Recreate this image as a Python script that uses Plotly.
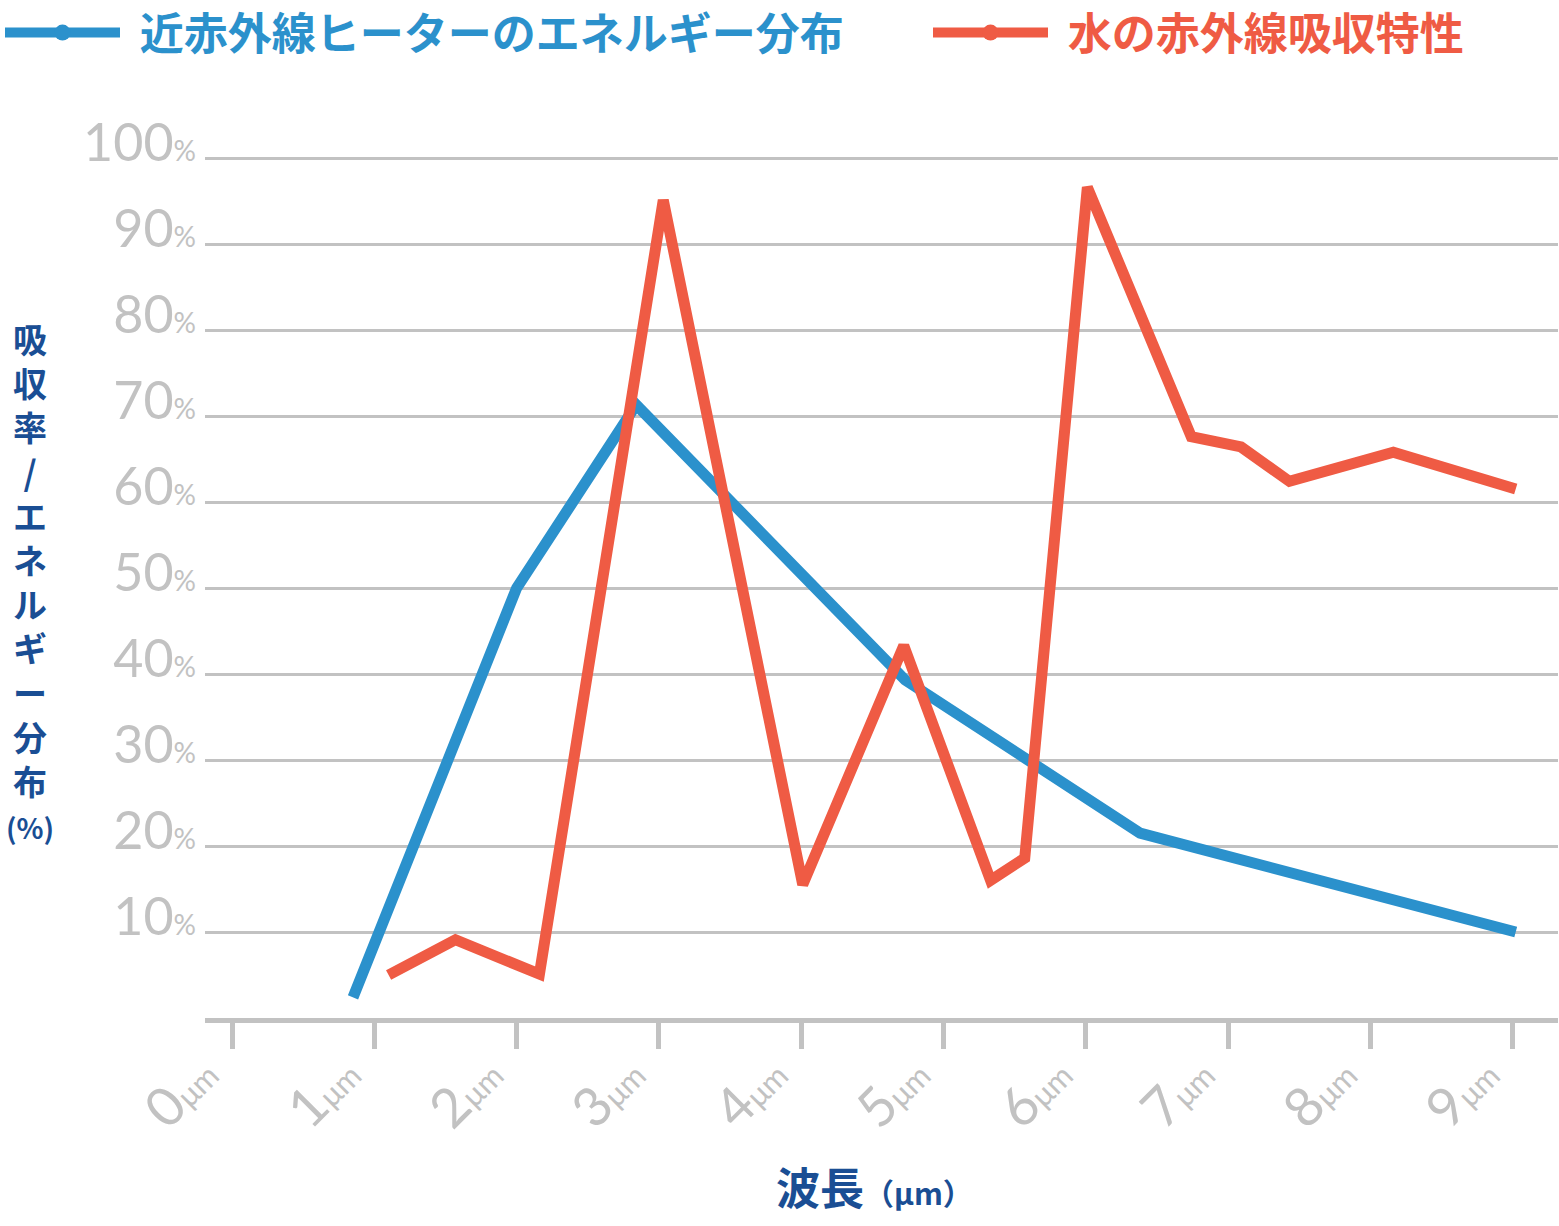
import plotly.graph_objects as go

# ---- data ----
blue_name = "近赤外線ヒーターのエネルギー分布"
red_name = "水の赤外線吸収特性"

blue_x = [0.85, 2.0, 2.84, 4.73, 6.38, 9.02]
blue_y = [2.4, 50.0, 71.3, 39.3, 21.5, 10.0]

red_x = [1.10, 1.57, 2.16, 3.03, 4.01, 4.72, 5.33, 5.57, 6.01, 6.74, 7.09, 7.43, 8.16, 9.02]
red_y = [5.0, 9.1, 5.1, 95.1, 15.5, 43.3, 16.0, 18.6, 96.6, 67.6, 66.4, 62.4, 65.8, 61.5]

x_ticks = [0, 1, 2, 3, 4, 5, 6, 7, 8, 9]
y_ticks = [10, 20, 30, 40, 50, 60, 70, 80, 90, 100]

y_title_chars = ["吸", "収", "率", "/", "エ", "ネ", "ル", "ギ", "ー", "分", "布"]
x_title_main = "波長"
x_title_unit = "（μm）"

BLUE = "#2b91cc"
RED = "#ef5b44"
GREY = "#c2c2c2"
NAVY = "#1a4e94"
NUM_FONT = "Lato"
JP_FONT = "Noto Sans CJK JP"
GAP = "\u2004"

W, H = 1559, 1226
PLOT_L, PLOT_R, PLOT_T, PLOT_B = 205, 1558, 154, 1018   # window pixels
L, T, R, B = PLOT_L, PLOT_T, W - PLOT_R, H - PLOT_B
PW, PH = PLOT_R - PLOT_L, PLOT_B - PLOT_T
Y_TOP = 100 + (158 - PLOT_T) / 8.6


def px(xw):
    return (xw - PLOT_L) / PW


def py(yw):
    return (PLOT_B - yw) / PH


fig = go.Figure()

fig.add_trace(go.Scatter(x=blue_x, y=blue_y, mode="lines", showlegend=False,
                         line=dict(color=BLUE, width=11), cliponaxis=False))
fig.add_trace(go.Scatter(x=red_x, y=red_y, mode="lines", showlegend=False,
                         line=dict(color=RED, width=11), cliponaxis=False))

# legend-only traces
fig.add_trace(go.Scatter(x=[None], y=[None], mode="lines+markers", legend="legend",
                         name=f"<span style='color:{BLUE}'>{GAP}{blue_name}</span>",
                         line=dict(color=BLUE, width=12), marker=dict(color=BLUE, size=40)))
fig.add_trace(go.Scatter(x=[None], y=[None], mode="lines+markers", legend="legend2",
                         name=f"<span style='color:{RED}'>{GAP}{red_name}</span>",
                         line=dict(color=RED, width=12), marker=dict(color=RED, size=40)))

y_text = [f"{v}<span style='font-size:28px'>%</span>" for v in y_ticks]
x_text = [f"{v}<span style='font-size:31px'>μm</span>" for v in x_ticks]

y_title_html = "<br>".join(y_title_chars)
y_title_html += "<br><span style='font-size:28px'>(%)</span>"

legend_common = dict(orientation="h", xref="container", yref="paper",
                     xanchor="left", yanchor="middle", itemwidth=115,
                     font=dict(family=JP_FONT, size=44, weight="bold"),
                     bgcolor="rgba(0,0,0,0)")
leg_y = py(33)

fig.update_layout(
    width=W, height=H,
    margin=dict(l=L, r=R, t=T, b=B, autoexpand=False),
    paper_bgcolor="white", plot_bgcolor="white",
    showlegend=True,
    legend=dict(x=(5 - 11) / W, y=leg_y, **legend_common),
    legend2=dict(x=(939 - 11) / W, y=leg_y, **legend_common),
    xaxis=dict(range=[-0.19, 9.317], tickvals=x_ticks, ticktext=x_text,
               tickangle=-45, showgrid=False, zeroline=False,
               showline=True, linecolor=GREY, linewidth=5,
               ticks="outside", ticklen=26, tickwidth=5, tickcolor=GREY,
               ticklabelstandoff=-28, ticklabelshift=-30,
               tickfont=dict(family=NUM_FONT, size=54, color=GREY)),
    yaxis=dict(range=[0, Y_TOP], tickvals=y_ticks, ticktext=y_text,
               showgrid=True, gridcolor=GREY, gridwidth=3,
               zeroline=False, showline=False, ticks="",
               ticklabelstandoff=8, ticklabelshift=-15,
               tickfont=dict(family=NUM_FONT, size=52, color=GREY)),
    annotations=[
        dict(text=y_title_html, xref="paper", yref="paper",
             x=px(30), y=py(580),
             xanchor="center", yanchor="middle", showarrow=False, align="center",
             font=dict(family=JP_FONT, size=34, color=NAVY, weight="bold")),
        dict(text=f"{x_title_main}<span style='font-size:30px'>{x_title_unit}</span>",
             xref="paper", yref="paper",
             x=px(874), y=py(1186),
             xanchor="center", yanchor="middle", showarrow=False,
             font=dict(family=JP_FONT, size=44, color=NAVY, weight="bold")),
    ],
)

fig.write_html("out.html", config={"displayModeBar": False},
               post_script="document.body.style.margin='0';document.body.style.overflow='hidden';")
